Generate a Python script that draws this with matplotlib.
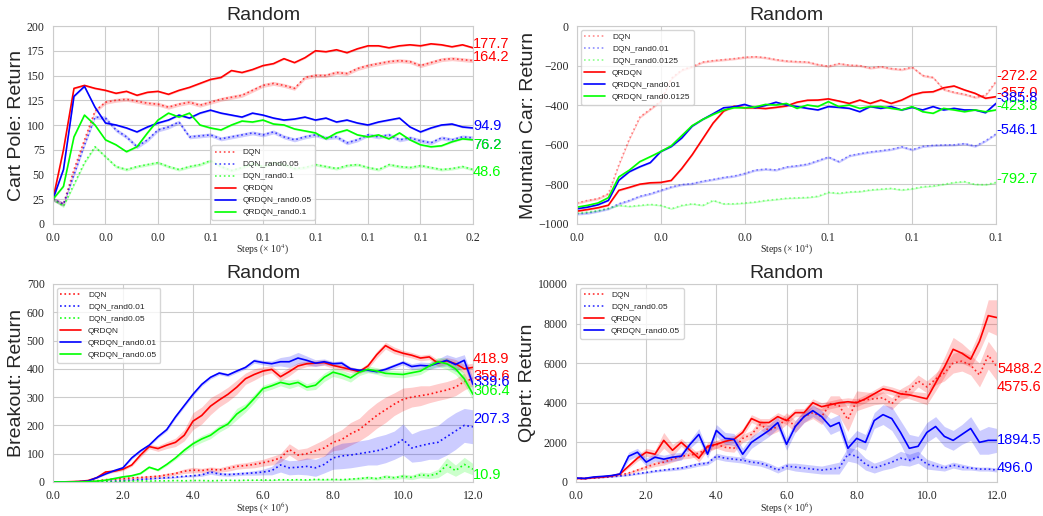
import numpy as np
import matplotlib

matplotlib.use("Agg")
import matplotlib.pyplot as plt
import seaborn as sns

sns.set_style("whitegrid")
plt.rcParams["font.family"] = ["Liberation Sans", "DejaVu Sans"]
plt.rcParams["mathtext.fontset"] = "stix"

RED, BLUE, GREEN = "#ff0000", "#0000ff", "#00ff00"

# ---------------- Cart Pole (steps x 1e4) ----------------
cp_x = np.linspace(0, 0.16, 41)
cp_names = ["DQN", "DQN_rand0.05", "DQN_rand0.1", "QRDQN", "QRDQN_rand0.05", "QRDQN_rand0.1"]
cp_dqn = [25, 20, 55, 85, 114, 123, 125, 126, 124, 122, 121, 118, 121, 123, 120, 123, 126, 128, 130, 135,
          140, 142, 140, 137, 148, 150, 150, 153, 152, 157, 160, 162, 164, 165, 164, 160, 163, 166, 167, 166, 165]
cp_dqn_r05 = [25, 20, 50, 80, 108, 107, 95, 88, 78, 85, 95, 98, 103, 88, 89, 90, 86, 88, 90, 92,
              90, 93, 88, 85, 88, 90, 87, 88, 82, 85, 90, 88, 90, 85, 87, 84, 82, 87, 85, 88, 87]
cp_dqn_r1 = [25, 18, 40, 62, 78, 68, 58, 55, 58, 60, 62, 58, 55, 58, 60, 64, 58, 54, 57, 61,
             58, 62, 60, 56, 57, 60, 58, 56, 59, 60, 57, 55, 60, 58, 57, 59, 57, 55, 56, 58, 55]
cp_qr = [25, 75, 137, 140, 137, 135, 132, 134, 130, 133, 134, 131, 135, 138, 142, 146, 148, 155, 153, 156,
         160, 162, 167, 163, 168, 175, 174, 176, 173, 177, 180, 180, 178, 180, 181, 180, 182, 181, 179, 181, 178]
cp_qr_r05 = [25, 55, 129, 139, 118, 102, 100, 97, 93, 98, 102, 105, 110, 107, 112, 115, 112, 110, 108, 112,
             110, 107, 105, 106, 108, 105, 107, 103, 105, 102, 100, 103, 105, 107, 98, 93, 97, 100, 101, 98, 97]
cp_qr_r1 = [25, 38, 88, 110, 100, 85, 80, 73, 78, 92, 105, 112, 108, 112, 100, 97, 95, 100, 104, 103,
            105, 101, 100, 96, 94, 92, 86, 92, 95, 90, 88, 90, 86, 92, 85, 80, 78, 79, 83, 86, 85]
cp_band = [2, 2, 1.5, 1, 1, 1]
cp_final = [164.2, 76.2, 48.6, 177.7, 94.9, 76.2]

# ---------------- Mountain Car (steps x 1e4) ----------------
mc_x = np.linspace(0, 0.1, 41)
mc_names = ["DQN", "DQN_rand0.01", "DQN_rand0.0125", "QRDQN", "QRDQN_rand0.01", "QRDQN_rand0.0125"]
mc_dqn = [-894, -881, -872, -847, -700, -570, -460, -420, -380, -265, -222, -205, -182, -175, -170, -165,
          -158, -155, -160, -170, -177, -180, -182, -195, -203, -190, -198, -200, -212, -205, -215, -220,
          -208, -250, -260, -320, -335, -345, -360, -350, -280]
mc_dqn_r01 = [-949, -945, -935, -923, -898, -881, -860, -847, -830, -813, -801, -796, -784, -775, -765, -758,
              -745, -728, -723, -727, -712, -706, -698, -680, -662, -685, -655, -645, -636, -630, -623, -610,
              -625, -608, -603, -601, -600, -594, -607, -580, -545]
mc_dqn_r0125 = [-945, -940, -932, -920, -906, -911, -906, -901, -906, -923, -906, -898, -906, -881, -898, -898,
                -894, -889, -881, -876, -870, -868, -866, -860, -840, -845, -838, -836, -828, -824, -820, -828,
                -822, -812, -808, -800, -790, -786, -800, -802, -790]
mc_qr = [-935, -927, -918, -905, -830, -815, -799, -792, -790, -780, -720, -650, -570, -490, -430, -405,
         -413, -413, -417, -411, -404, -385, -375, -374, -368, -379, -391, -374, -391, -374, -391, -374,
         -348, -335, -332, -312, -303, -323, -340, -365, -357]
mc_qr_r01 = [-923, -915, -903, -881, -779, -736, -711, -690, -634, -609, -566, -506, -472, -443, -413, -408,
             -396, -413, -401, -385, -399, -407, -416, -424, -407, -411, -416, -433, -407, -416, -407, -424,
             -411, -424, -407, -424, -416, -424, -424, -438, -391]
mc_qr_r0125 = [-915, -906, -894, -867, -762, -728, -685, -660, -634, -605, -554, -503, -472, -447, -425, -413,
               -413, -409, -396, -399, -391, -416, -399, -407, -382, -407, -399, -416, -407, -407, -416, -424,
               -407, -433, -441, -416, -424, -433, -424, -433, -424]
mc_band = [6, 6, 4, 5, 4, 4]
mc_final = [-272.2, -546.1, -792.7, -357.0, -385.8, -423.8]

# ---------------- Breakout (steps x 1e6) ----------------
at_x = np.linspace(0, 12, 49)
bo_names = ["DQN", "DQN_rand0.01", "DQN_rand0.05", "QRDQN", "QRDQN_rand0.01", "QRDQN_rand0.05"]
bo_dqn = [0, 0, 0, 1, 2, 4, 8, 10, 12, 14, 16, 18, 20, 25, 30, 38, 42, 40, 45, 42, 48, 55, 58, 62, 68,
          75, 85, 115, 95, 100, 110, 120, 140, 150, 170, 185, 210, 235, 255, 275, 292, 300, 305, 310, 318,
          325, 335, 355, 365]
bo_dqn_r01 = [0, 0, 0, 0, 0, 1, 2, 3, 5, 7, 9, 11, 13, 15, 17, 20, 22, 25, 35, 28, 26, 28, 30, 32, 35,
              40, 60, 50, 52, 55, 50, 62, 85, 92, 95, 100, 105, 110, 118, 130, 150, 120, 128, 135, 140,
              160, 180, 200, 195]
bo_dqn_r05 = [0, 0, 0, 0, 0, 0, 1, 1, 3, 3, 4, 3, 4, 4, 5, 4, 5, 5, 4, 5, 6, 5, 6, 6, 7,
              6, 8, 7, 8, 7, 9, 8, 9, 8, 10, 12, 15, 12, 18, 15, 20, 16, 25, 22, 30,
              60, 40, 62, 45]
bo_qr = [0, 0, 1, 2, 5, 15, 35, 38, 45, 60, 95, 125, 118, 130, 140, 165, 215, 235, 268, 290, 310, 335,
         365, 380, 392, 398, 372, 390, 410, 418, 420, 422, 412, 405, 398, 390, 410, 450, 482, 465, 455,
         448, 438, 442, 420, 428, 418, 400, 405]
bo_qr_r01 = [0, 0, 0, 1, 3, 15, 28, 40, 50, 85, 110, 130, 160, 185, 230, 270, 310, 345, 370, 385, 378,
             392, 405, 428, 422, 418, 425, 425, 438, 430, 420, 425, 418, 420, 400, 395, 395, 390, 398, 410,
             422, 408, 412, 410, 420, 430, 415, 430, 345]
bo_qr_r05 = [0, 0, 0, 0, 1, 3, 6, 12, 18, 22, 30, 52, 42, 62, 85, 112, 135, 152, 165, 188, 205, 240,
             262, 295, 330, 340, 352, 345, 352, 335, 342, 370, 388, 380, 368, 388, 398, 392, 384, 382,
             380, 386, 392, 410, 425, 418, 400, 365, 310]
bo_dqn_sd = [0, 0, 0, 0, 1, 2, 3, 3, 4, 4, 4, 5, 5, 6, 6, 8, 10, 8, 8, 8, 10, 10, 10, 12, 12,
             15, 15, 20, 20, 20, 25, 30, 30, 35, 40, 40, 45, 45, 45, 40, 40, 35, 35, 30, 30, 30, 30, 30, 25]
bo_dqn_r01_sd = [0, 0, 0, 0, 0, 0, 1, 1, 1, 2, 2, 2, 2, 3, 3, 3, 4, 5, 8, 6, 6, 6, 6, 8, 10,
                 15, 25, 25, 25, 30, 30, 30, 40, 45, 45, 45, 45, 50, 50, 50, 55, 50, 55, 55, 60, 65, 65, 60, 60]
bo_dqn_r05_sd = [0, 0, 0, 0, 0, 0, 0, 0, 1, 1, 1, 1, 1, 1, 1, 1, 1, 1, 1, 1, 1, 1, 1, 1, 2,
                 2, 2, 2, 2, 2, 3, 3, 3, 3, 4, 5, 6, 5, 8, 6, 8, 8, 10, 10, 15, 25, 20, 25, 20]
bo_qr_sd = [0, 0, 0, 1, 1, 3, 5, 5, 5, 5, 8, 8, 10, 12, 15, 20, 30, 30, 30, 25, 25, 25, 20, 20, 15,
            12, 15, 15, 12, 10, 10, 10, 10, 10, 10, 8, 10, 12, 12, 12, 10, 10, 10, 10, 12, 12, 15, 15, 15]
bo_qr_r01_sd = [0, 0, 0, 0, 1, 2, 3, 3, 4, 5, 5, 5, 5, 6, 6, 6, 6, 6, 6, 6, 6, 6, 6, 8, 8,
                10, 15, 20, 20, 15, 12, 10, 8, 8, 6, 6, 6, 6, 8, 8, 8, 10, 12, 12, 15, 20, 25, 20, 20]
bo_qr_r05_sd = [0, 0, 0, 0, 0, 1, 1, 2, 2, 3, 3, 4, 4, 5, 6, 8, 10, 12, 12, 12, 12, 20, 15, 15, 12,
                12, 12, 15, 12, 12, 15, 15, 15, 15, 15, 12, 12, 12, 12, 12, 12, 12, 12, 12, 15, 20, 20, 20, 20]
bo_final = [359.6, 207.3, 10.9, 418.9, 339.6, 306.4]

# ---------------- Qbert (steps x 1e6) ----------------
qb_names = ["DQN", "DQN_rand0.05", "QRDQN", "QRDQN_rand0.05"]
qb_dqn = [180, 170, 210, 240, 280, 350, 450, 600, 750, 900, 1000, 1150, 1300, 1350, 1450, 1700, 1900,
          1750, 1700, 2200, 2400, 2900, 2600, 2800, 3200, 2800, 3300, 3500, 3300, 3950, 3850, 3150, 4100,
          4150, 4200, 4250, 3950, 4400, 4650, 5100, 4800, 5200, 5500, 6000, 6100, 5900, 5400, 6400, 5800]
qb_dqn_r05 = [180, 170, 200, 230, 260, 300, 350, 420, 480, 550, 600, 650, 700, 800, 900, 950, 1300,
              1200, 1150, 1100, 1000, 950, 800, 600, 800, 750, 700, 650, 600, 650, 700, 1400, 1300, 900,
              700, 850, 1000, 1200, 1100, 1250, 900, 800, 700, 850, 750, 700, 650, 650, 600]
qb_qr = [180, 170, 220, 250, 300, 400, 800, 1200, 1500, 1400, 2100, 1600, 2000, 1600, 1200, 1800, 1900,
         2050, 2150, 2500, 3200, 3000, 3000, 3300, 3100, 3500, 3500, 4000, 3800, 3900, 4000, 4050, 4000,
         4200, 4450, 4700, 4600, 4450, 4400, 4300, 4200, 5000, 5800, 6700, 6500, 6200, 7100, 8400, 8300]
qb_qr_r05 = [200, 180, 250, 280, 320, 400, 1300, 1500, 1000, 1250, 1150, 1250, 1300, 1900, 2400, 1400,
             2600, 2200, 2150, 1400, 2000, 2300, 2600, 3000, 1900, 2800, 3300, 3600, 3300, 2800, 3000, 1700,
             2200, 2000, 3100, 3400, 3200, 2500, 1700, 1800, 2500, 2800, 2300, 2100, 2400, 2700, 2000, 2100, 2100]
qb_dqn_sd = [20, 20, 20, 30, 30, 40, 60, 80, 100, 120, 150, 150, 150, 150, 150, 200, 200, 200, 200, 200,
             200, 250, 250, 250, 300, 300, 300, 300, 400, 400, 500, 600, 500, 400, 300, 300, 300, 300, 300,
             300, 300, 300, 400, 500, 500, 500, 600, 700, 700]
qb_dqn_r05_sd = [20, 20, 20, 20, 30, 30, 40, 50, 50, 60, 60, 80, 80, 100, 100, 100, 150, 150, 150, 150,
                 150, 150, 150, 150, 150, 200, 200, 200, 200, 250, 300, 350, 350, 300, 250, 250, 300, 350,
                 300, 300, 250, 200, 150, 150, 150, 100, 100, 100, 100]
qb_qr_sd = [20, 20, 20, 30, 30, 50, 100, 150, 200, 200, 400, 300, 200, 200, 200, 200, 200, 200, 200, 200,
            200, 200, 200, 200, 200, 200, 200, 200, 200, 200, 200, 200, 200, 200, 200, 200, 200, 200, 200,
            250, 300, 400, 500, 600, 500, 400, 500, 800, 900]
qb_qr_r05_sd = [20, 20, 20, 30, 30, 50, 200, 200, 200, 200, 200, 200, 200, 200, 300, 200, 300, 300, 300,
                300, 300, 300, 300, 300, 300, 300, 300, 300, 300, 400, 400, 400, 400, 400, 400, 500, 600,
                600, 700, 500, 500, 500, 500, 500, 500, 600, 600, 700, 600]
qb_final = [4575.6, 496.0, 5488.2, 1894.5]


def draw_panel(ax, x, names, ys, sds, finals, colors, styles, dot_alpha,
               xlim, ylim, xticks, yticks, ylabel, xunit, legend_loc):
    for name, y, sd, c, ls in zip(names, ys, sds, colors, styles):
        y = np.asarray(y, dtype=float)
        sd = np.asarray(sd, dtype=float) * np.ones_like(y)
        a = dot_alpha if ls == ":" else 1.0
        ax.fill_between(x, y - sd, y + sd, color=c, alpha=0.2, lw=0)
        ax.plot(x, y, color=c, ls=ls, lw=1.2, alpha=a, label=name)
    for v, c in zip(finals, colors):
        ax.text(xlim[1], v, f"{v:.1f}", color=c, fontsize=10.5, ha="left", va="baseline")
    ax.set_xlim(*xlim)
    ax.set_ylim(*ylim)
    ax.set_xticks(xticks)
    ax.set_yticks(yticks)
    ax.xaxis.set_major_formatter(matplotlib.ticker.FormatStrFormatter("%.1f"))
    ax.tick_params(axis="both", pad=2.5)
    for lab in ax.get_xticklabels() + ax.get_yticklabels():
        lab.set_fontfamily("Liberation Serif")
        lab.set_fontsize(8.5)
    ax.set_title("Random", fontsize=14, color="#262626", pad=4)
    ax.set_ylabel(ylabel, fontsize=14, color="#262626", labelpad=1)
    ax.set_xlabel(f"Steps (× 10$^{xunit}$)", fontsize=7, family="Liberation Serif",
                  color="#262626", labelpad=-1)
    ax.legend(loc=legend_loc, fontsize=6, handlelength=2.5)


fig = plt.figure(figsize=(10.43, 5.16), dpi=100)
ax1 = fig.add_axes([0.0508, 0.5659, 0.4027, 0.3837])
ax2 = fig.add_axes([0.5532, 0.5659, 0.4017, 0.3837])
ax3 = fig.add_axes([0.0508, 0.0660, 0.4027, 0.3837])
ax4 = fig.add_axes([0.5523, 0.0660, 0.4036, 0.3837])

six_colors = [RED, BLUE, GREEN, RED, BLUE, GREEN]
six_styles = [":", ":", ":", "-", "-", "-"]

draw_panel(ax1, cp_x, cp_names, [cp_dqn, cp_dqn_r05, cp_dqn_r1, cp_qr, cp_qr_r05, cp_qr_r1],
           cp_band, cp_final, six_colors, six_styles, 0.7,
           (0, 0.16), (0, 200), np.linspace(0, 0.16, 9), np.arange(0, 201, 25),
           "Cart Pole: Return", 4, "lower center")
draw_panel(ax2, mc_x, mc_names, [mc_dqn, mc_dqn_r01, mc_dqn_r0125, mc_qr, mc_qr_r01, mc_qr_r0125],
           mc_band, mc_final, six_colors, six_styles, 0.45,
           (0, 0.1), (-1000, 0), np.linspace(0, 0.1, 6), np.arange(-1000, 1, 200),
           "Mountain Car: Return", 4, "upper left")
draw_panel(ax3, at_x, bo_names, [bo_dqn, bo_dqn_r01, bo_dqn_r05, bo_qr, bo_qr_r01, bo_qr_r05],
           [bo_dqn_sd, bo_dqn_r01_sd, bo_dqn_r05_sd, bo_qr_sd, bo_qr_r01_sd, bo_qr_r05_sd],
           bo_final, six_colors, six_styles, 0.9,
           (0, 12), (0, 700), np.arange(0, 13, 2), np.arange(0, 701, 100),
           "Breakout: Return", 6, "upper left")
draw_panel(ax4, at_x, qb_names, [qb_dqn, qb_dqn_r05, qb_qr, qb_qr_r05],
           [qb_dqn_sd, qb_dqn_r05_sd, qb_qr_sd, qb_qr_r05_sd],
           qb_final, [RED, BLUE, RED, BLUE], [":", ":", "-", "-"], 0.8,
           (0, 12), (0, 10000), np.arange(0, 13, 2), np.arange(0, 10001, 2000),
           "Qbert: Return", 6, "upper left")

fig.savefig("out.png", dpi=100)
